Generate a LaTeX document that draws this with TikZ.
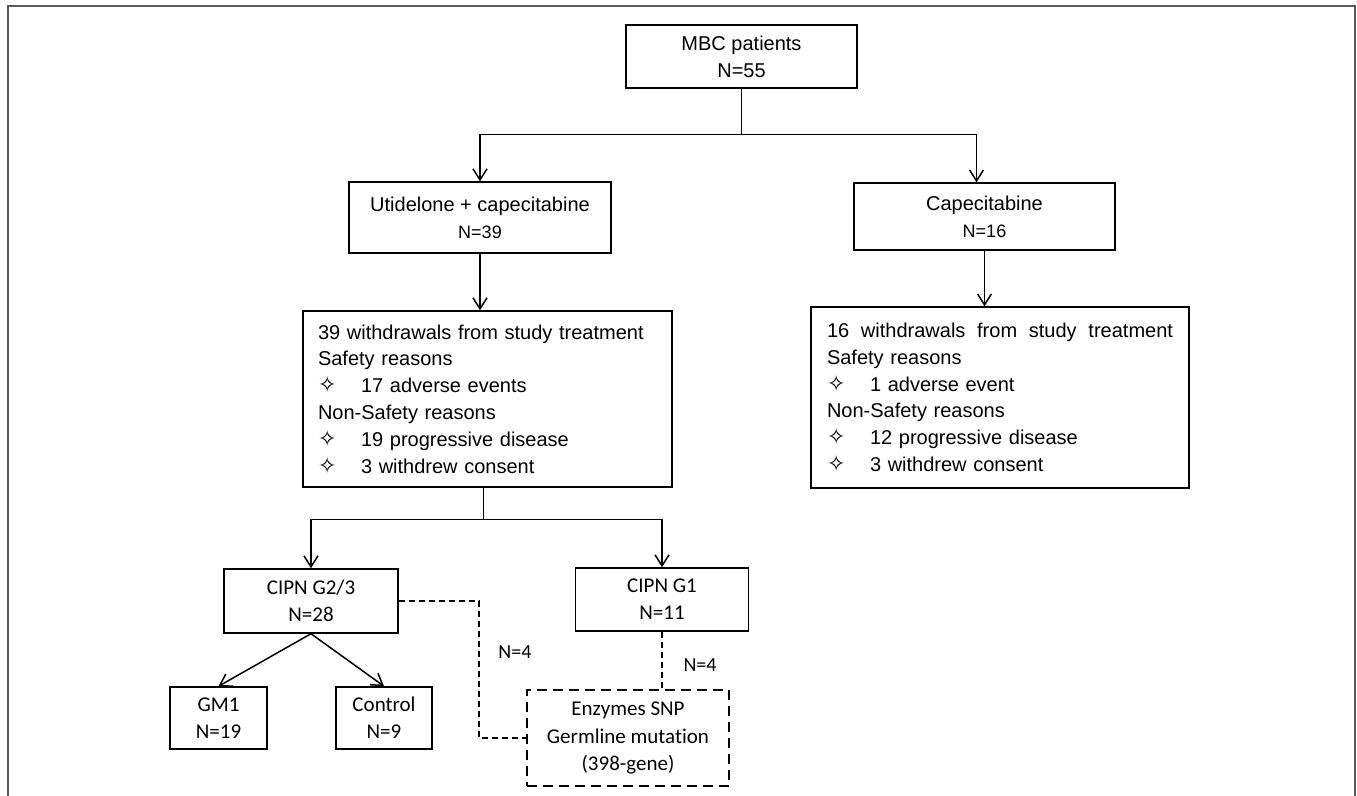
\documentclass[tikz,border=0pt]{standalone}
\usepackage{fontspec}
\setmainfont{Liberation Sans}
\newfontfamily\calfont[RawFeature=-liga, RawFeature=-clig, RawFeature=-calt]{Carlito}
\newfontfamily\symfont{DejaVu Sans}
\usetikzlibrary{positioning, arrows.meta, calc}

\newcommand{\bul}{\makebox[21.5pt][l]{\symfont\fontsize{11}{13.4}\selectfont\char"2727}}
\newcommand{\nsize}{\fontsize{9}{13.5}\selectfont}

\begin{document}
\begin{tikzpicture}[
    x=0.5pt, y=-0.5pt,
    box/.style={rectangle, draw=black, line width=0.75pt, align=center, inner sep=0pt, font=\fontsize{10}{13.5}\selectfont},
    listbox/.style={rectangle, draw=black, line width=0.75pt, align=left, inner xsep=7.5pt, inner ysep=0pt, font=\fontsize{10}{13.4}\selectfont},
    lowbox/.style={box, font=\calfont\fontsize{10.5}{13.5}\selectfont},
    snpbox/.style={lowbox, dash pattern=on 5pt off 3pt, line width=0.9pt, font=\calfont\fontsize{10.5}{13.75}\selectfont},
    arr/.style={-{Straight Barb[length=5.5pt, width=7pt]}, line width=0.75pt},
    link/.style={line width=0.75pt},
    dlink/.style={line width=0.9pt, dash pattern=on 3pt off 2pt},
    note/.style={font=\calfont\fontsize{10}{12}\selectfont}
]
\useasboundingbox (0,0) rectangle (1357,796);

% Frame
\draw[line width=0.8pt, black!65] (8,796) -- (8,6) -- (1355,6) -- (1355,796);

% === Top ===
\node[box, minimum width=115.5pt, minimum height=31.5pt] (mbc) at (741.5,56.5) {MBC patients\\N=55};

% === Treatment arms ===
\node[box, minimum width=131pt, minimum height=35.5pt] (uti) at (480,217.5) {Utidelone + capecitabine\\{\nsize N=39}};
\node[box, minimum width=130.5pt, minimum height=33.5pt] (cap) at (984.5,216.5) {Capecitabine\\{\nsize N=16}};

% === Withdrawals ===
\node[listbox, text width=169.5pt, minimum height=88pt] (wl) at (487.5,399) {39 withdrawals from study treatment\\Safety reasons\\\bul 17 adverse events\\Non-Safety reasons\\\bul 19 progressive disease\\\bul 3 withdrew consent};
\node[listbox, inner xsep=8pt, text width=173pt, minimum height=90.5pt] (wr) at (1000,397.5) {\hbox to 173pt{16\hfil\ withdrawals\hfil\ from\hfil\ study\hfil\ treatment}\\Safety reasons\\\bul 1 adverse event\\Non-Safety reasons\\\bul 12 progressive disease\\\bul 3 withdrew consent};

% === CIPN groups ===
\node[lowbox, minimum width=87pt, minimum height=32pt] (g23) at (311,601) {CIPN G2/3\\N=28};
\node[lowbox, minimum width=86.5pt, minimum height=31.5pt] (g1) at (662,599.5) {CIPN G1\\N=11};
\node[lowbox, minimum width=48.5pt, minimum height=31pt] (gm1) at (218.5,718) {GM1\\N=19};
\node[lowbox, minimum width=48pt, minimum height=31pt] (ctrl) at (384,718) {Control\\N=9};
\node[snpbox, minimum width=101pt, minimum height=48pt] (snp) at (628,738) {Enzymes SNP\\Germline mutation\\(398-gene)};

% Labels
\node[note] (n4a) at (515,652) {N=4};
\node[note] (n4b) at (700,665) {N=4};

% === Connectors ===
\draw[link] (mbc.south) -- ++(0,-23pt) coordinate (split);
\draw[arr] (split) -| (uti.north);
\draw[arr] (split) -| ([xshift=-4pt]cap.north);
\draw[arr] (uti.south) -- (uti.south |- wl.north);
\draw[arr] (cap.south) -- (cap.south |- wr.north);
\draw[link] ([xshift=-2pt]wl.south) -- ++(0,-16pt) coordinate (fork);
\draw[arr] (fork) -| (g23.north);
\draw[arr] (fork) -| (g1.north);
\draw[arr] (g23.south) -- (gm1.north);
\draw[arr] (g23.south) -- (ctrl.north);
\draw[dlink] (g23.east) -- ++(40pt,0) |- (snp.west);
\draw[dlink] (g1.south) -- (g1.south |- snp.north);

\end{tikzpicture}
\end{document}
